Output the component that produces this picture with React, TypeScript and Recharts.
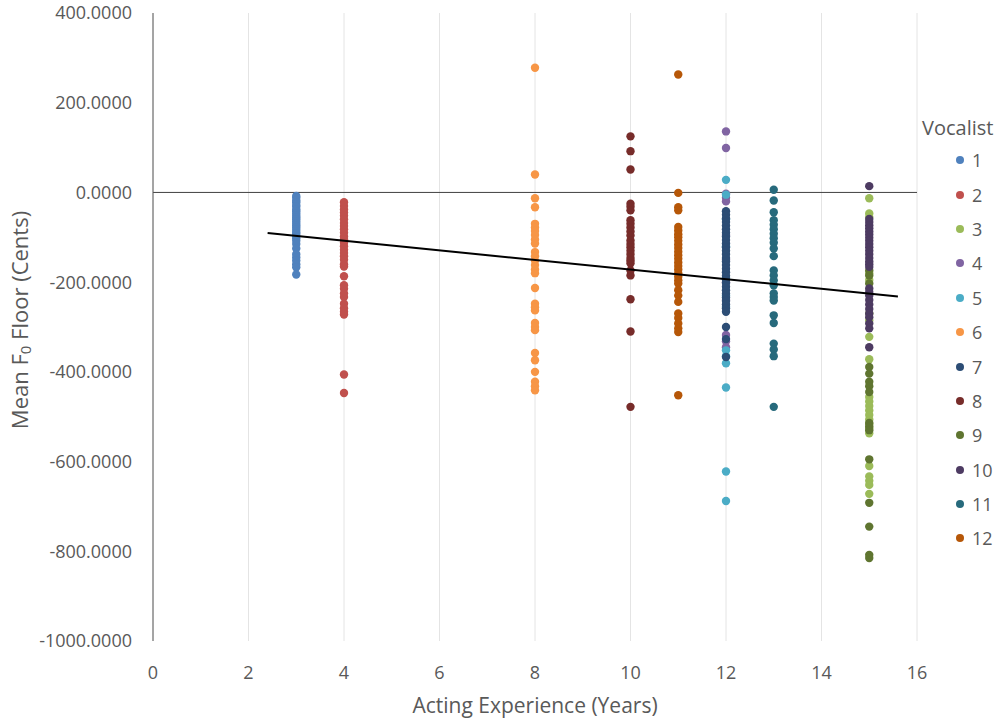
import React from 'react';
import { ScatterChart, Scatter, XAxis, YAxis, CartesianGrid, ReferenceLine, Legend } from 'recharts';

const FONT = '"Open Sans", "Noto Sans", sans-serif';
const TEXT = '#595959';

// Vocalist names, acting experience (years) and colours
const vocalistNames = ['1', '2', '3', '4', '5', '6', '7', '8', '9', '10', '11', '12'];
const experience = [3, 4, 15, 12, 12, 8, 12, 10, 15, 15, 13, 11];
const colors = ['#4F81BD', '#C0504D', '#9BBB59', '#8064A2', '#4BACC6', '#F79646', '#2C4D75', '#772C2A', '#5F7530', '#4D3B62', '#276A7C', '#B65708'];

// Mean F0 floor (cents) per vocalist
const v1 = [-8, -12, -18, -22, -28, -32, -38, -42, -47, -52, -56, -60, -65, -70, -74, -78, -83, -88, -92, -97, -102, -108, -115, -125, -138, -145, -152, -160, -167, -183];
const v2 = [-22, -30, -38, -45, -52, -60, -68, -75, -82, -90, -98, -105, -112, -120, -128, -135, -142, -150, -160, -165, -187, -207, -215, -225, -233, -248, -258, -266, -272, -406, -447];
const v3 = [-13, -47, -55, -180, -195, -270, -285, -322, -372, -456, -466, -476, -486, -496, -506, -516, -526, -537, -610, -633, -643, -652, -672];
const v4 = [136, 99, -3, -12, -20, -95, -150, -200, -240, -318, -332, -345];
const v5 = [28, -5, -60, -120, -190, -230, -255, -352, -365, -381, -435, -622, -688];
const v6 = [278, 40, -13, -33, -70, -78, -86, -95, -105, -114, -133, -142, -152, -162, -172, -180, -213, -248, -256, -263, -291, -300, -307, -358, -374, -400, -422, -432, -441];
const v7 = [-42, -50, -58, -66, -74, -82, -90, -98, -106, -114, -122, -130, -138, -146, -154, -162, -170, -178, -186, -194, -202, -210, -218, -226, -234, -242, -250, -258, -266, -300, -327, -367];
const v8 = [125, 92, 51, -25, -32, -40, -62, -70, -78, -87, -96, -107, -115, -122, -130, -138, -146, -152, -158, -174, -185, -238, -310, -478];
const v9 = [-174, -185, -203, -389, -404, -422, -432, -445, -514, -522, -530, -595, -692, -745, -808, -815];
const v10 = [14, -59, -66, -73, -80, -87, -94, -101, -108, -115, -122, -130, -138, -146, -154, -160, -166, -214, -222, -230, -240, -250, -260, -270, -278, -292, -303, -345];
const v11 = [6, -18, -44, -62, -72, -82, -92, -102, -112, -125, -142, -174, -185, -196, -207, -225, -233, -241, -274, -291, -337, -350, -365, -478];
const v12 = [263, -1, -33, -40, -77, -85, -93, -100, -108, -116, -124, -132, -140, -148, -156, -164, -172, -180, -188, -196, -203, -218, -230, -244, -270, -280, -292, -303, -311, -452];
const floors = [v1, v2, v3, v4, v5, v6, v7, v8, v9, v10, v11, v12];

// Linear trendline endpoints
const trendX = [2.4, 15.6];
const trendY = [-90.7, -231.9];

// Axis ticks
const xTicks = [0, 2, 4, 6, 8, 10, 12, 14, 16];
const yTicks = [-1000, -800, -600, -400, -200, 0, 200, 400];

const series = vocalistNames.map((name, i) => ({
  name,
  color: colors[i],
  data: floors[i].map((y) => ({ x: experience[i], y })),
}));
const trendData = trendX.map((x, i) => ({ x, y: trendY[i] }));

const Dot = (props: any) => {
  const { cx, cy, fill } = props;
  if (cx == null || cy == null) return <g />;
  return <circle cx={cx} cy={cy} r={4.2} fill={fill} />;
};

const renderLegend = (props: any) => {
  const payload = (props.payload || [])
    .filter((p: any) => p.type !== 'none' && vocalistNames.includes(String(p.value)))
    .sort((a: any, b: any) => vocalistNames.indexOf(String(a.value)) - vocalistNames.indexOf(String(b.value)));
  return (
    <div style={{ fontFamily: FONT, color: TEXT }}>
      <div style={{ fontSize: 20, height: 30, lineHeight: '30px', paddingLeft: 7, whiteSpace: 'nowrap' }}>Vocalist</div>
      {payload.map((p: any) => (
        <div key={p.value} style={{ display: 'flex', alignItems: 'center', height: 34.4 }}>
          <span style={{ display: 'inline-block', width: 8, height: 8, borderRadius: 4, background: p.color, marginLeft: 41 }} />
          <span style={{ fontSize: 18, marginLeft: 8, lineHeight: '34px' }}>{p.value}</span>
        </div>
      ))}
    </div>
  );
};

const YTitle = () => (
  <text x={19} y={320} transform="rotate(-90 19 320)" textAnchor="middle" dominantBaseline="central" fill={TEXT} fontSize={22} fontFamily={FONT}>
    Mean F<tspan fontSize={15} dy={6}>0</tspan><tspan dy={-6}> Floor (Cents)</tspan>
  </text>
);

const XTitle = (props: any) => {
  const vb = props.viewBox || { x: 153, width: 764 };
  return (
    <text x={vb.x + vb.width / 2} y={705} textAnchor="middle" dominantBaseline="central" fill={TEXT} fontSize={21} fontFamily={FONT}>
      Acting Experience (Years)
    </text>
  );
};

export default function App() {
  return (
    <div style={{ position: 'absolute', left: 0, top: 0, width: 1001, height: 721, background: '#fff' }}>
      <ScatterChart width={1001} height={721} margin={{ top: 13, right: 84, bottom: 0, left: 0 }}>
        <CartesianGrid horizontal={false} stroke="#E4E4E4" />
        <XAxis
          type="number"
          dataKey="x"
          domain={[0, 16]}
          ticks={xTicks}
          axisLine={false}
          tickLine={false}
          tickSize={0}
          tickMargin={25}
          height={80}
          tick={{ fill: TEXT, fontSize: 18, fontFamily: FONT }}
          label={{ content: (p: any) => <XTitle {...p} /> }}
        />
        <YAxis
          type="number"
          dataKey="y"
          domain={[-1000, 400]}
          ticks={yTicks}
          width={153}
          axisLine={{ stroke: '#595959' }}
          tickLine={false}
          tickSize={0}
          tickMargin={21}
          tickFormatter={(v: number) => v.toFixed(4)}
          tick={{ fill: TEXT, fontSize: 18, fontFamily: FONT }}
          label={{ content: () => <YTitle /> }}
        />
        <ReferenceLine y={0} stroke="#404040" strokeWidth={1} />
        {series.map((s) => (
          <Scatter key={s.name} name={s.name} data={s.data} fill={s.color} shape={<Dot />} isAnimationActive={false} />
        ))}
        <Scatter
          name="trend"
          data={trendData}
          line={{ stroke: '#000000', strokeWidth: 2 }}
          shape={() => <g />}
          legendType="none"
          isAnimationActive={false}
        />
        <Legend
          layout="vertical"
          align="center"
          verticalAlign="middle"
          content={renderLegend}
          wrapperStyle={{ left: 915, top: 113, width: 86, height: 430 }}
        />
      </ScatterChart>
    </div>
  );
}
